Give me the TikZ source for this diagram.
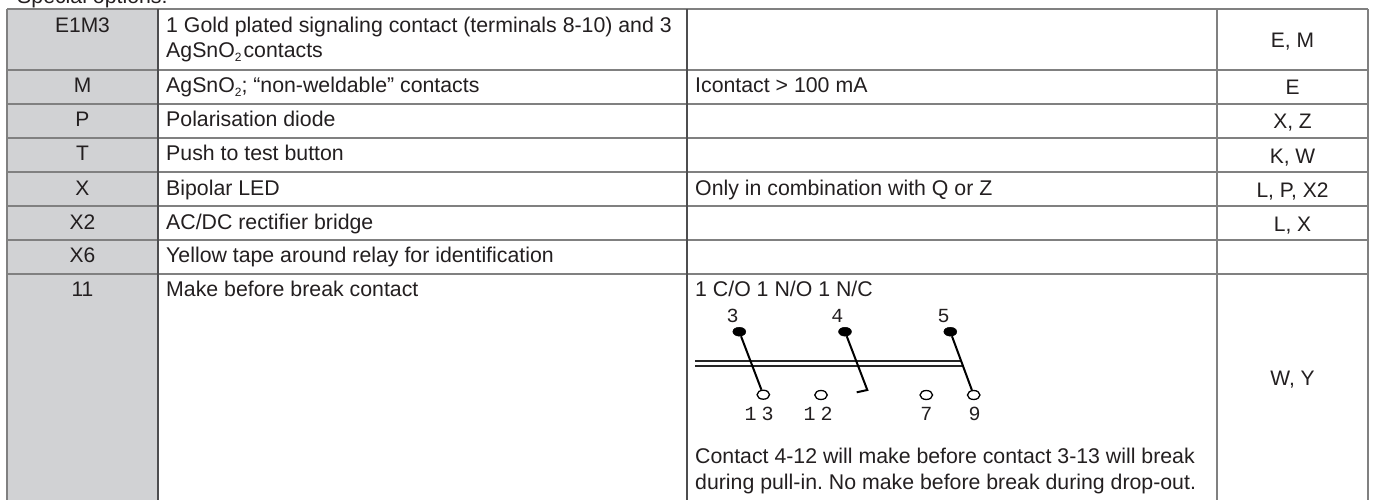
\documentclass[tikz,border=0pt]{standalone}
\usepackage{fontspec}
\setmainfont{Liberation Sans}
\newfontfamily\monof{Liberation Mono}
\definecolor{ink}{HTML}{231F20}
\definecolor{rule}{HTML}{808080}
\definecolor{ruledark}{HTML}{4D4D4F}
\definecolor{cellgray}{HTML}{D1D2D4}
\newcommand{\subtwo}{{\fontsize{12}{12}\selectfont\raisebox{-4pt}{2}}}
\tikzset{
  txt/.style={anchor=base west,inner sep=0pt,text=ink,font=\fontsize{21.3}{25}\selectfont},
  ctr/.style={anchor=base,inner sep=0pt,text=ink,font=\fontsize{21}{25}\selectfont},
  gridline/.style={draw=rule,line width=1.6pt},
  darkline/.style={draw=ruledark,line width=1.2pt},
  num/.style={anchor=base,inner sep=0pt,text=ink,font=\monof\fontsize{20}{20}\selectfont},
  fixeddot/.style={ellipse,fill=black,draw=black,inner sep=0pt,minimum width=13pt,minimum height=9pt},
  opendot/.style={ellipse,fill=white,draw=black,line width=1.3pt,inner sep=0pt,minimum width=12.5pt,minimum height=9pt},
  blade/.style={draw=black,line width=2pt},
  shaft/.style={draw=black!85,line width=1.5pt}
}
\usetikzlibrary{shapes.geometric}
\begin{document}
\frenchspacing
\begin{tikzpicture}[x=1pt,y=-1pt]
\useasboundingbox (0,0) rectangle (1373,500);
\fill[white] (0,0) rectangle (1373,500);
\fill[cellgray] (7,9) rectangle (158,500);
% horizontal rules
\foreach \yy in {9,70,104,138,172,206,240,274}
  \draw[gridline] (7,\yy) -- (1368,\yy);
% vertical rules
\draw[gridline] (7,9) -- (7,500);
\draw[darkline] (158,9) -- (158,500);
\draw[darkline] (687,9) -- (687,500);
\draw[gridline] (1217,9) -- (1217,500);
\draw[gridline] (1368,9) -- (1368,500);
% heading (cut by the page top, as in the reference)
\node[txt] (head) at (17,3.3) {Special options:};
% column 1
\node[ctr] (a1) at (82.5,32.3) {E1M3};
\node[ctr] (a2) at (82.5,92.5) {M};
\node[ctr] (a3) at (82.5,126.7) {P};
\node[ctr] (a4) at (82.5,160.7) {T};
\node[ctr] (a5) at (82.5,195) {X};
\node[ctr] (a6) at (82.5,229) {X2};
\node[ctr] (a7) at (82.5,262.7) {X6};
\node[ctr] (a8) at (82.5,296.7) {11};
% column 2
\node[txt] (b1a) at (166,32.3) {1 Gold plated signaling contact (terminals 8-10) and 3};
\node[txt] (b1b) at (166,57.5) {AgSnO\subtwo\hspace{2pt}contacts};
\node[txt] (b2) at (166,92.5) {AgSnO\subtwo; “non-weldable” contacts};
\node[txt] (b3) at (166,126.7) {Polarisation diode};
\node[txt] (b4) at (166,160.7) {Push to test button};
\node[txt] (b5) at (166,195) {Bipolar LED};
\node[txt] (b6) at (166,229) {AC/DC rectifier bridge};
\node[txt] (b7) at (166,262.7) {Yellow tape around relay for identification};
\node[txt] (b8) at (166,296.7) {Make before break contact};
% column 3
\node[txt] (c2) at (695,92.5) {Icontact > 100 mA};
\node[txt] (c5) at (695,195) {Only in combination with Q or Z};
\node[txt] (c8) at (695,296.7) {1 C/O 1 N/O 1 N/C};
\node[txt] (c9) at (695,463) {Contact 4-12 will make before contact 3-13 will break};
\node[txt] (c10) at (695,489) {during pull-in. No make before break during drop-out.};
% column 4
\node[ctr] (d1) at (1292.5,47.7) {E, M};
\node[ctr] (d2) at (1292.5,95) {E};
\node[ctr] (d3) at (1292.5,129) {X, Z};
\node[ctr] (d4) at (1292.5,163) {K, W};
\node[ctr] (d5) at (1292.5,197) {L, P, X2};
\node[ctr] (d6) at (1292.5,231) {L, X};
\node[ctr] (d8) at (1292.5,385) {W, Y};
% schematic
\coordinate (sa) at (695,361);
\coordinate (sb) at (962,361);
\coordinate (sc) at (695,366);
\coordinate (sd) at (962,366);
\draw[shaft] (sa) -- (sb);
\draw[shaft] (sc) -- (sd);
\node[fixeddot] (f3) at (739.3,331.7) {};
\node[fixeddot] (f4) at (845,331.7) {};
\node[fixeddot] (f5) at (950.3,331.7) {};
\node[opendot] (o13) at (763.3,394.7) {};
\node[opendot] (o12) at (821,395) {};
\node[opendot] (o7) at (926.3,395) {};
\node[opendot] (o9) at (973.7,395) {};
\coordinate (h1) at (867.3,390);
\coordinate (h2) at (856.7,392.3);
\draw[blade] (f3) -- (o13);
\draw[blade] (f4) -- (h1) -- (h2);
\draw[blade] (f5) -- (o9);
\node[num] (n3) at (732.7,322.3) {3};
\node[num] (n4) at (837.3,322.3) {4};
\node[num] (n5) at (943.7,322.3) {5};
\node[num] (n13) at (759,420) {1\hspace{5pt}3};
\node[num] (n12) at (818,420) {1\hspace{5pt}2};
\node[num] (n7) at (926.3,420) {7};
\node[num] (n9) at (974.7,420) {9};
\end{tikzpicture}
\end{document}
